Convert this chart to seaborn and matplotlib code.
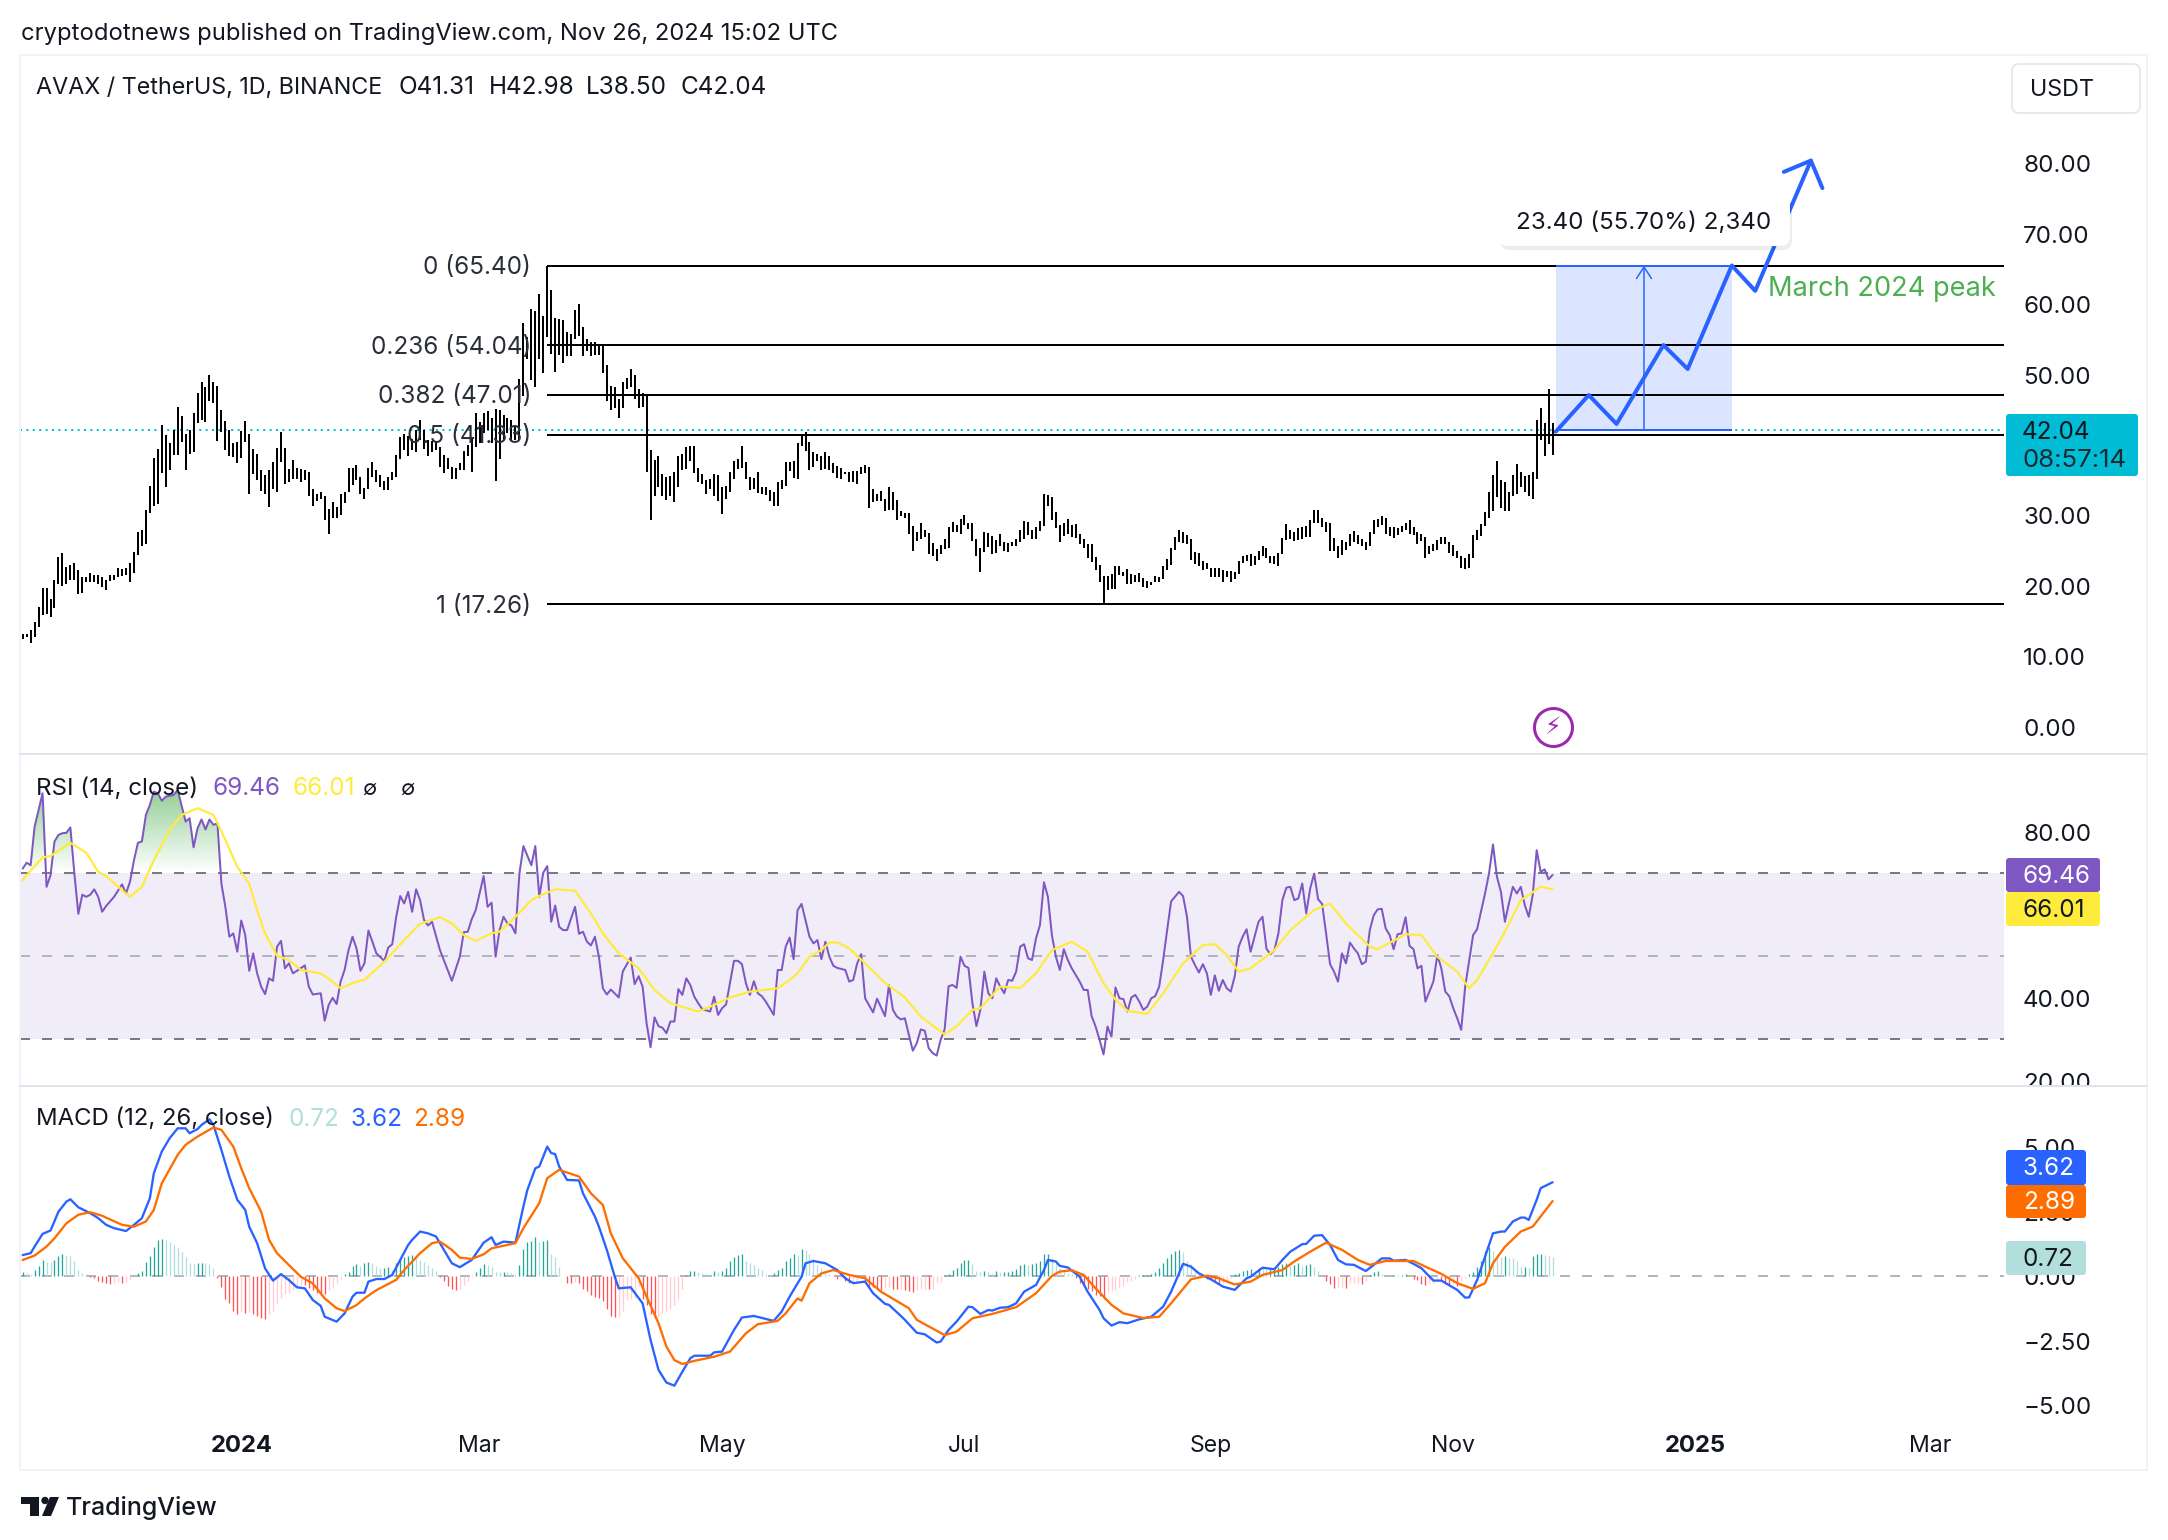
import numpy as np
import pandas as pd
import matplotlib
matplotlib.use('Agg')
import matplotlib.pyplot as plt
import matplotlib.dates as mdates
from matplotlib.colors import to_rgb
from matplotlib.lines import Line2D
from matplotlib.patches import FancyBboxPatch, PathPatch, Polygon, Circle
from matplotlib.path import Path
from matplotlib.transforms import Bbox, IdentityTransform, ScaledTranslation
import seaborn as sns

# daily bars, highs and lows
bar_high = [
    13.1,13.1,13.7,14.8,16.9,19.6,19.6,18.1,20.8,24.0, 24.5,22.6,22.9,23.1,22.2,21.1,21.2,21.7,21.4,21.4,
    21.1,20.7,21.4,21.4,22.5,22.3,22.5,23.1,24.7,27.6, 27.8,30.7,34.1,38.0,39.3,42.7,41.3,40.2,42.1,45.3,
    44.0,41.4,42.0,44.4,47.3,48.9,48.2,49.8,48.9,48.3, 44.9,43.3,42.0,40.2,40.4,41.9,43.3,41.4,39.3,38.7,
    36.3,35.6,36.3,37.5,39.5,41.8,39.5,36.5,37.8,36.6, 36.5,36.4,36.1,33.6,33.0,33.3,32.7,30.8,31.8,31.1,
    33.0,33.2,36.6,36.6,37.0,35.3,33.8,36.7,37.5,36.4, 35.7,34.8,35.3,36.1,38.5,41.1,41.5,41.2,40.8,42.0,
    43.5,42.0,40.6,40.5,40.4,39.6,38.5,38.0,36.8,36.7, 37.3,39.1,39.9,41.1,44.5,43.2,44.5,44.7,43.8,45.0,
    44.9,44.2,43.7,43.5,42.5,49.3,57.2,55.3,59.2,58.9, 61.4,58.3,65.4,61.9,58.0,57.8,57.7,56.0,55.7,59.1,
    60.0,56.6,54.9,54.5,54.5,54.3,54.0,51.2,48.3,48.1, 46.4,48.9,49.4,50.7,49.8,47.8,47.3,46.9,39.2,37.8,
    38.4,35.8,35.3,35.5,36.1,38.3,38.6,39.6,39.8,39.8, 36.6,35.8,35.0,35.1,35.8,35.6,34.0,34.1,36.1,37.6,
    37.9,39.7,37.5,35.3,35.2,36.1,33.9,33.9,33.5,33.2, 34.7,35.0,37.5,37.5,37.6,40.2,41.3,41.8,40.3,38.9,
    38.6,38.3,38.9,38.4,37.3,36.9,36.6,36.1,36.1,36.2, 36.2,36.8,37.1,36.8,33.6,33.0,33.4,32.2,33.9,33.3,
    32.1,30.5,30.3,30.2,28.4,27.6,28.8,27.9,27.4,26.0, 25.2,25.7,26.5,28.2,29.0,28.5,29.4,29.9,28.9,28.8,
    26.5,25.3,27.6,27.4,27.0,26.4,27.2,26.2,26.0,26.1, 26.5,27.9,29.1,29.0,27.9,28.3,29.1,33.0,32.8,32.5,
    30.4,28.5,28.8,29.4,28.6,28.7,27.2,26.6,25.9,25.9, 24.0,22.8,21.3,21.3,21.6,22.7,22.7,21.9,22.3,21.6,
    21.5,21.7,21.0,20.6,20.5,21.3,21.2,22.7,23.7,25.3, 26.8,27.9,27.5,27.1,26.6,24.7,24.6,23.5,23.2,22.5,
    22.5,22.5,22.2,22.0,22.0,21.8,23.4,24.2,24.3,24.4, 24.1,24.9,25.6,25.3,24.1,24.2,24.5,26.7,28.7,27.9,
    27.6,28.1,28.3,28.4,29.3,30.7,30.7,29.5,29.0,28.8, 26.7,25.6,26.4,26.2,27.3,27.7,27.1,26.5,26.2,27.6,
    29.3,29.4,29.8,29.6,28.3,28.2,28.1,28.4,28.8,29.3, 28.2,27.5,27.2,26.8,25.5,25.9,26.4,26.9,26.9,26.2,
    25.7,24.8,24.2,23.9,24.4,27.1,27.8,28.7,30.4,33.2, 35.6,37.6,34.9,34.7,33.2,35.6,37.2,36.1,35.5,35.6,
    36.1,43.5,45.2,43.1,47.8,42.98,
]
bar_low = [
    12.3,12.6,11.8,12.7,14.0,15.8,15.9,15.5,16.8,20.2, 19.9,20.1,20.7,20.7,18.8,18.9,20.4,20.4,20.4,20.1,
    19.8,19.3,20.6,20.7,21.1,21.3,21.4,20.5,21.7,24.3, 25.6,25.9,30.3,31.3,31.5,36.0,34.0,36.4,38.5,38.5,
    40.3,36.4,38.6,38.9,43.1,43.5,43.2,46.2,45.9,40.5, 41.8,39.2,38.4,38.2,37.4,38.0,40.3,33.0,35.8,35.0,
    33.4,33.0,31.1,33.7,33.2,37.5,34.3,34.6,35.1,35.1, 34.7,34.9,32.7,31.2,31.9,32.3,29.3,27.2,29.5,29.6,
    30.0,31.7,33.2,34.2,35.0,33.0,32.3,33.7,35.3,34.6, 34.0,33.5,33.5,35.0,35.3,37.9,39.2,38.4,39.2,38.9,
    40.6,39.4,38.4,38.9,39.2,36.8,35.9,36.5,35.1,35.1, 36.4,36.4,38.3,36.1,39.6,40.2,41.6,42.0,40.2,34.8,
    37.9,40.6,41.6,40.6,40.6,40.6,46.8,52.1,49.1,48.2, 52.1,50.1,55.3,52.9,50.3,52.7,51.6,52.5,52.5,54.9,
    55.4,52.5,53.2,52.5,52.7,52.7,50.2,46.2,44.9,45.2, 43.8,45.2,47.9,48.2,46.4,45.1,45.3,36.1,29.2,32.6,
    34.0,32.6,32.1,32.6,31.8,34.0,36.3,36.5,37.7,36.0, 34.7,34.3,33.0,33.7,32.6,31.9,30.1,32.3,33.3,35.1,
    36.5,36.6,35.1,33.5,33.7,33.1,33.0,32.8,31.9,31.3, 31.2,33.7,34.1,36.2,35.2,35.1,39.7,39.1,36.3,36.8,
    37.7,36.4,36.5,36.4,36.0,35.2,35.1,35.8,34.7,34.6, 34.4,35.8,36.0,30.9,31.8,31.9,32.0,30.6,30.7,30.7,
    29.2,29.8,29.6,27.2,24.9,26.3,26.6,26.8,24.4,24.1, 23.5,24.4,25.2,25.3,27.6,27.5,27.3,28.6,28.0,26.3,
    24.2,21.8,24.7,25.4,24.4,24.6,25.5,24.8,24.7,25.5, 25.5,26.2,26.5,27.1,26.5,26.6,27.7,28.4,31.3,29.3,
    28.1,26.1,27.0,27.2,26.8,26.7,25.9,25.3,23.9,23.3, 22.1,20.5,17.26,19.3,19.4,19.5,21.4,21.3,20.2,20.2,
    20.5,20.5,19.8,19.6,20.0,20.4,20.4,20.9,22.1,22.9, 25.0,26.1,26.0,25.8,23.6,23.0,22.7,22.1,22.3,21.1,
    21.1,21.2,20.4,21.2,20.4,20.9,21.6,23.1,23.4,22.7, 22.9,23.6,24.2,23.9,23.1,23.0,22.7,24.4,26.4,26.5,
    26.3,26.4,26.6,26.9,26.9,28.9,28.9,28.2,27.5,24.9, 24.9,23.8,24.3,25.0,25.5,26.2,25.9,25.5,25.0,25.6,
    27.3,28.2,28.6,27.3,27.0,26.7,27.1,27.6,27.8,27.2, 27.1,25.8,26.3,23.9,24.4,24.9,25.0,25.9,25.9,24.5,
    24.2,23.9,22.4,22.3,22.4,23.8,26.4,27.0,28.4,29.5, 30.6,32.5,31.0,30.6,30.6,32.7,33.0,33.9,33.3,32.7,
    32.3,35.1,40.6,38.3,40.0,38.50,
]

fib_levels = [65.40, 54.04, 47.01, 41.33, 17.26]
fib_names = ['0', '0.236', '0.382', '0.5', '1']
last_close = 42.04

# projection drawn on the chart, bar number and price
path_bars = [385.8, 394.1, 401.1, 412.9, 419, 430.1, 436, 450]
path_prices = [41.8, 47.0, 42.9, 54.1, 50.7, 65.4, 61.8, 80.3]
head_bars = [443.2, 450, 452.9]
head_prices = [78.7, 80.3, 76.4]

rsi_bars = [
    0,1,2,3,5,6,7,8,9,10,11,12,13,14,15,16,17,18,19,20,21,23,25,26,27,28,29,30,31,32,33,34,35,36,38,39,
    41,42,43,44,45,46,47,48,49,50,51,52,53,54,55,56,57,58,59,60,61,62,63,64,65,66,67,68,69,71,72,73,75,76,
    77,78,79,80,81,82,83,84,85,86,87,88,89,91,92,93,94,95,96,97,98,99,100,101,102,103,105,108,110,111,112,113,
    114,116,117,118,119,120,121,122,123,124,125,126,128,129,130,131,132,133,134,135,136,137,139,140,141,142,143,144,
    145,146,147,148,150,151,153,154,155,156,157,158,159,160,161,162,163,164,165,166,167,168,169,170,171,173,174,175,
    176,177,179,180,181,182,183,184,185,186,187,189,190,191,192,193,194,195,
    196,197,198,199,200,201,202,203,204,205,207,208,209,210,211,212,214,215,217,218,219,220,221,222,223,224,225,226,
    227,228,229,230,231,232,233,234,235,236,237,238,239,240,241,242,243,244,245,246,247,248,249,250,251,252,253,254,
    255,256,257,258,259,260,261,262,263,264,265,266,267,268,269,270,271,272,273,274,275,276,277,278,279,280,281,282,
    283,284,285,286,287,288,289,291,292,293,294,295,296,297,298,299,300,301,302,303,304,305,306,307,308,309,310,311,
    312,313,314,315,316,317,318,319,320,321,322,323,324,325,326,327,328,329,330,331,332,333,334,335,336,337,338,339,
    340,341,342,343,344,345,346,347,348,349,350,351,352,353,354,355,356,357,358,359,360,361,362,363,365,366,368,369,
    370,371,372,373,374,375,376,377,378,379,380,381,382,383,384,385,
]
rsi_vals = [
    71.0,72.4,71.8,81.1,89.1,66.6,69.4,77.5,79.1,79.5,79.6,80.9,69.8,60.1,64.7,64.2,64.7,66.0,64.2,60.6,62.0,64.2,67.2,65.0,67.8,73.0,77.2,77.5,83.9,86.3,89.5,89.1,87.3,88.3,88.7,89.9,
    82.3,83.1,76.1,80.7,82.8,80.4,82.8,81.5,81.9,67.4,61.8,54.6,55.4,51.0,58.5,55.0,46.4,50.6,45.8,42.6,40.8,44.6,44.0,52.2,53.6,47.0,48.2,45.8,46.4,47.7,42.6,40.7,41.0,34.4,
    38.2,39.9,38.4,43.8,46.6,51.4,54.6,51.8,46.4,48.2,56.1,53.4,50.6,48.8,52.0,52.8,59.4,64.4,62.6,65.4,60.6,66.0,63.4,58.6,57.3,58.2,51.4,44.0,49.8,55.7,55.8,58.8,
    61.0,69.2,61.8,62.8,49.8,56.2,59.4,57.8,57.3,55.4,69.8,76.4,71.8,76.4,64.2,70.0,71.6,58.2,62.1,57.0,56.2,56.2,61.8,55.3,55.8,53.4,52.5,54.6,
    49.8,42.2,40.7,41.9,40.0,46.2,49.6,43.2,45.1,42.6,33.8,28.0,35.2,33.1,32.7,31.4,34.2,34.2,42.0,40.6,44.6,43.0,40.2,38.6,37.2,36.6,40.2,35.8,
    37.4,38.3,48.8,48.8,48.0,43.4,40.6,43.9,41.0,40.3,39.0,35.8,46.6,46.6,52.2,54.4,49.2,61.0,
    62.5,58.6,54.6,53.0,53.8,49.2,53.4,49.8,47.6,47.1,46.6,43.8,44.2,48.2,50.4,39.8,36.4,39.7,35.5,43.0,37.0,35.4,34.7,35.0,31.0,27.2,29.0,32.3,
    32.0,27.8,26.6,26.0,29.8,32.3,42.7,43.0,42.3,49.8,47.6,47.1,38.6,33.1,37.0,46.2,41.0,39.8,44.6,42.6,41.0,44.2,44.0,46.2,52.2,52.8,49.4,49.0,
    54.2,57.4,67.7,64.2,55.0,49.8,46.6,51.6,49.0,47.0,45.4,43.8,41.8,41.8,35.5,33.0,29.8,26.3,33.0,30.6,42.4,39.8,39.6,36.6,40.0,40.6,39.0,37.0,
    37.8,39.8,40.3,42.6,49.0,56.2,63.1,65.4,64.4,59.4,49.8,47.8,46.0,48.0,45.8,40.6,45.3,41.6,44.2,42.2,41.4,45.0,52.2,54.6,56.4,51.0,54.6,58.2,
    59.4,51.7,50.4,51.4,55.4,63.4,66.4,66.6,63.4,63.8,67.4,60.2,66.2,69.8,63.6,62.5,55.4,48.0,46.2,43.8,50.6,48.2,53.2,51.8,50.6,48.0,48.6,56.2,
    59.8,61.2,61.3,56.6,55.0,51.6,55.2,55.4,59.3,52.4,51.6,47.0,47.6,39.0,41.4,43.8,50.2,47.0,41.4,40.3,37.4,35.0,32.2,42.6,55.0,56.4,65.0,69.8,
    76.8,69.0,65.4,58.2,62.6,66.6,65.0,66.6,62.2,59.4,64.6,75.4,70.2,70.8,68.4,69.46,
]
rsi_ma_bars = [
    0,1,5,7,12,16,19,21,25,27,30,33,37,40,44,48,51,54,57,59,61,64,67,70,75,78,80,84,86,91,96,100,105,108,111,114,118,120,124,128,130,134,
    139,143,146,150,155,159,163,170,174,178,183,190,193,195,198,201,203,205,208,212,217,222,226,232,235,239,241,246,251,255,259,264,268,272,275,278,283,287,
    292,297,300,303,306,309,315,319,325,329,333,339,341,348,352,356,361,364,366,370,373,377,382,385,
]
rsi_ma_vals = [
    68.2,69.4,73.7,74.0,77.2,74.8,70.2,69.2,65.8,64.2,66.6,73.0,80.3,83.9,85.5,83.9,77.9,71.4,67.4,61.0,55.4,50.0,49.0,46.6,45.8,43.8,42.2,43.8,44.2,48.6,53.8,57.7,59.3,57.8,55.0,53.6,55.4,55.8,59.4,63.4,64.4,66.0,
    65.7,60.2,55.4,50.6,47.0,41.8,38.6,36.6,38.2,40.0,41.4,42.2,44.2,45.8,49.8,51.4,53.2,53.2,51.8,48.2,43.5,40.0,35.4,31.1,33.0,37.0,37.4,42.6,42.3,45.8,51.4,53.4,51.0,43.4,39.5,36.8,36.0,41.0,
    48.2,52.6,52.8,50.2,46.2,47.0,51.4,56.2,61.0,62.6,57.8,52.2,51.6,55.2,55.0,49.8,46.2,42.2,44.2,50.6,55.8,63.4,66.6,66.01,
]

macd_bars = [
    0,2,3,5,7,9,11,12,14,17,19,21,23,26,28,30,32,33,35,37,39,41,42,44,45,47,48,50,52,54,56,57,59,61,63,65,67,69,71,73,75,76,79,81,83,84,86,87,89,91,93,95,97,98,
    100,102,104,106,108,110,113,116,118,119,121,124,126,127,129,130,132,133,134,135,137,140,141,144,145,147,149,150,153,156,158,160,162,164,166,168,169,173,174,176,179,181,184,189,191,193,
    196,197,199,202,205,207,209,212,214,217,218,221,222,225,227,230,231,233,235,238,239,241,243,244,246,248,250,252,255,257,258,260,261,263,266,268,271,272,274,276,278,281,284,287,289,291,292,294,296,299,
    302,305,308,309,312,315,317,319,322,323,325,327,329,331,333,335,338,340,342,344,345,348,350,352,355,357,361,363,364,366,368,370,372,373,375,377,378,379,381,382,385,
]
macd_vals = [
    0.8,0.87,1.13,1.62,1.75,2.48,2.87,2.96,2.65,2.42,2.23,1.97,1.84,1.73,1.97,2.23,3.0,3.97,4.81,5.33,5.71,5.71,5.52,5.68,5.84,6.06,5.84,4.87,3.84,2.94,2.55,1.9,1.26,0.28,-0.19,0.06,-0.17,-0.45,-0.49,-0.94,-1.17,-1.59,-1.78,-1.46,-0.81,-0.66,-0.66,-0.23,-0.13,-0.13,0.03,0.61,1.19,1.39,
    1.71,1.64,1.52,1.0,0.48,0.33,0.61,1.28,1.49,1.19,1.32,1.28,2.68,3.32,4.16,4.23,5.0,4.75,4.71,4.23,3.71,3.69,3.19,2.29,1.9,1.0,-0.04,-0.49,-0.45,-1.07,-2.49,-3.65,-4.14,-4.26,-3.72,-3.2,-3.1,-3.1,-2.97,-2.94,-2.1,-1.62,-1.56,-1.75,-1.39,-0.81,
    -0.04,0.48,0.57,0.48,0.22,-0.1,-0.29,-0.23,-0.68,-1.09,-1.13,-1.56,-1.71,-2.21,-2.27,-2.59,-2.55,-2.1,-1.78,-1.2,-1.22,-1.48,-1.33,-1.35,-1.24,-1.22,-1.07,-0.62,-0.36,0.22,0.61,0.55,0.38,0.32,-0.04,-0.62,-1.33,-1.65,-1.93,-1.8,-1.84,-1.69,-1.59,-1.2,-0.62,0.09,0.46,0.35,0.09,-0.14,
    -0.42,-0.55,-0.1,-0.04,0.31,0.25,0.61,0.93,1.22,1.23,1.55,1.57,1.19,0.61,0.44,0.42,0.18,0.42,0.67,0.67,0.58,0.61,0.46,0.29,-0.19,-0.19,-0.55,-0.85,-0.84,-0.17,0.74,1.64,1.71,1.71,2.1,2.25,2.25,2.16,2.94,3.39,3.62,
]
signal_bars = [
    0,3,6,8,11,14,17,20,25,28,31,33,35,39,41,44,48,50,53,55,57,60,62,64,67,70,73,76,79,81,84,86,89,94,96,100,103,105,108,110,113,116,118,124,126,130,132,135,140,143,146,148,151,155,157,160,162,164,166,169,174,178,182,185,190,192,195,
    196,198,201,204,208,212,216,223,225,232,235,239,244,250,255,259,261,264,267,270,274,277,282,286,289,294,298,301,305,309,312,317,320,324,328,332,336,339,343,350,353,357,361,365,368,370,373,377,380,385,
]
signal_vals = [
    0.61,0.78,1.13,1.45,2.03,2.36,2.46,2.32,1.97,1.9,2.1,2.55,3.58,4.68,5.07,5.39,5.74,5.65,5.0,4.16,3.39,2.48,1.39,0.87,0.41,-0.04,-0.3,-0.88,-1.26,-1.37,-1.14,-0.88,-0.56,-0.16,0.22,0.87,1.26,1.32,1.0,0.7,0.65,0.83,1.06,1.26,1.84,2.81,3.78,4.1,3.84,3.19,2.74,1.64,0.68,-0.1,-0.81,-1.84,-2.75,-3.27,-3.42,-3.3,-3.14,-2.94,-2.23,-1.88,-1.75,-1.46,-0.88,
    -0.97,-0.29,0.09,0.22,0.03,-0.1,-0.62,-1.26,-1.71,-2.3,-2.17,-1.65,-1.48,-1.22,-0.68,-0.01,0.16,0.21,0.03,-0.49,-1.13,-1.46,-1.64,-1.59,-1.07,-0.14,0.0,-0.1,-0.34,-0.23,0.03,0.22,0.55,0.93,1.28,1.0,0.61,0.42,0.57,0.57,0.35,0.07,-0.29,-0.51,-0.29,0.48,1.12,1.71,1.9,2.89,
]
macd_hist = [
    .16,.1,.06,.22,.39,.6,.53,.52,.6,.77, .84,.8,.76,.57,.22,.12,.05,-.04,-.1,-.2,
    -.25,-.3,-.32,-.27,-.25,-.27,-.23,-.16,-.06,.1, .2,.52,.78,1.1,1.4,1.42,1.38,1.3,1.19,1.1,
    .93,.72,.48,.45,.48,.5,.48,.45,.28,-.1, -.45,-.9,-1.05,-1.36,-1.5,-1.35,-1.45,-1.42,-1.5,-1.58,
    -1.62,-1.67,-1.5,-1.4,-1.08,-.88,-.7,-.68,-.56,-.43, -.35,-.36,-.49,-.56,-.68,-.71,-.72,-.56,-.43,-.28,
    -.14,.05,.15,.38,.44,.36,.48,.52,.5,.38, .3,.3,.32,.22,.5,.65,.72,.78,.8,.75,
    .6,.52,.42,.28,.18,-.04,-.2,-.38,-.52,-.56, -.5,-.35,-.22,-.05,.15,.3,.46,.42,.35,.15,
    .14,.15,.14,.12,.05,.42,1.05,1.3,1.35,1.5, 1.3,1.35,1.4,.85,.72,.35,-.03,-.28,-.3,-.25,
    -.28,-.5,-.6,-.75,-.82,-.85,-.98,-1.3,-1.55,-1.6, -1.6,-1.35,-.95,-.9,-.85,-.4,-.9,-1.15,-1.5,-1.65,
    -1.6,-1.45,-1.42,-1.3,-1.15,-.9,-.5,.02,.18,.18, .15,.12,.1,.08,.18,.14,.18,.28,.55,.74,
    .8,.85,.55,.5,.42,.3,.22,.05,.02,.1, .22,.3,.55,.7,.85,.8,1.05,1.0,.85,.65,
    .42,.3,.15,.05,-.02,-.14,-.12,-.2,-.3,-.28, -.25,-.1,-.28,-.42,-.45,-.5,-.55,-.45,-.45,-.5,
    -.52,-.52,-.55,-.6,-.62,-.55,-.52,-.5,-.52,-.5, -.3,-.25,.03,.05,.22,.3,.5,.6,.6,.45,
    .2,.15,.2,.15,.1,.18,.15,.15,.16,.2, .25,.4,.45,.42,.45,.5,.55,.85,.85,.7,
    .55,.3,.18,.1,.05,-.1,-.3,-.35,-.5,-.6, -.75,-.8,-.9,-.65,-.6,-.55,-.42,-.38,-.25,-.2,
    -.12,.01,.02,.03,.06,.15,.3,.5,.68,.85, .95,1.0,.9,.55,.45,.25,.1,.05,-.12,-.18,
    -.25,-.3,-.28,-.28,-.1,.05,.1,.2,.22,.25, .2,.3,.28,.22,.24,.28,.35,.45,.5,.4,
    .42,.5,.38,.42,.45,.35,.2,.05,-.2,-.32, -.48,-.48,-.45,-.48,-.3,-.3,-.3,-.32,-.2,.04,
    .15,.2,.08,.05,.02,.02,.01,.03,.05,.03, -.12,-.18,-.32,-.35,-.28,-.28,-.12,-.2,-.32,-.35,
    -.32,-.4,-.2,-.08,.05,.15,.32,.55,.95,1.1, .95,.75,.72,.75,.7,.68,.55,.35,.35,.3,
    .75,.85,.85,.8,.78,.72,
]

price_ticks = [0, 10, 20, 30, 50, 60, 70, 80]
rsi_tick_shown = [20, 40, 80]
macd_ticks = [-5, -2.5, 0, 2.5, 5]
month_dates = ['2024-01-01', '2024-03-01', '2024-05-01', '2024-07-01', '2024-09-01', '2024-11-01', '2025-01-01', '2025-03-01']
month_labels = ['2024', 'Mar', 'May', 'Jul', 'Sep', 'Nov', '2025', 'Mar']

W, H = 2168, 1540
sns.set_theme(style='white')
plt.rcParams['font.family'] = ['Inter', 'DejaVu Sans']
plt.rcParams['text.color'] = '#131722'
INK = '#131722'
PURPLE = '#7e57c2'
YELLOW = '#ffeb3b'
BLUE = '#2962ff'
ORANGE = '#ff6d00'
TEAL = '#00bcd4'
PX = 0.72  # one pixel in points at dpi 100

start = pd.Timestamp('2023-11-07')
def bar_date(i):
    return start + pd.to_timedelta(np.asarray(i, dtype=float), unit='D')

dates = bar_date(np.arange(len(bar_high)))

fig = plt.figure(figsize=(W / 100, H / 100), dpi=100, facecolor='white')

def make_ax(y_top, y_bottom):
    ax = fig.add_axes([20 / W, 1 - y_bottom / H, (2004 - 20) / W, (y_bottom - y_top) / H])
    for s in ax.spines.values():
        s.set_visible(False)
    ax.patch.set_alpha(0)
    ax.set_xlim(bar_date(-0.68), bar_date(498.6))
    return ax

ax_p = make_ax(55, 754)
ax_r = make_ax(754, 1085.7)
ax_m = make_ax(1085.7, 1428)

# price panel
ax_p.vlines(dates, bar_low, bar_high, color='black', lw=2 * PX, zorder=3)
ax_p.hlines(fib_levels, bar_date(132), bar_date(498.6), color='black', lw=2 * PX, zorder=2)
ax_p.axhline(last_close, color=TEAL, lw=2 * PX, ls=(0, (1, 2.2)), zorder=2)
for lev, name in zip(fib_levels, fib_names):
    ax_p.annotate(f'{name} ({lev:.2f})', xy=(bar_date(128), lev), xytext=(0, -1.2), textcoords='offset points',
                  ha='right', va='center', fontsize=17.5, color='#2a2e39', zorder=4)

ax_p.fill_between(bar_date([385.8, 430.2]), last_close, fib_levels[0], color=BLUE, alpha=0.16, lw=0, zorder=1)
ax_p.hlines([last_close, fib_levels[0]], bar_date(385.8), bar_date(430.2), color=BLUE, lw=2 * PX, zorder=3)
ax_p.annotate('', xy=(bar_date(408), fib_levels[0]), xytext=(bar_date(408), last_close),
              arrowprops=dict(arrowstyle='->,head_length=0.7,head_width=0.45', color=BLUE, lw=1.5 * PX, shrinkA=0, shrinkB=0), zorder=3)

path_df = pd.DataFrame({'date': bar_date(path_bars), 'price': path_prices})
head_df = pd.DataFrame({'date': bar_date(head_bars), 'price': head_prices})
sns.lineplot(data=path_df, x='date', y='price', ax=ax_p, color=BLUE, lw=4 * PX, estimator=None, errorbar=None, legend=False, zorder=4)
sns.lineplot(data=head_df, x='date', y='price', ax=ax_p, color=BLUE, lw=4 * PX, estimator=None, errorbar=None, legend=False, sort=False, zorder=4)
ax_p.text(bar_date(439.3), 62.1, 'March 2024 peak', color='#4caf50', fontsize=19.6, va='center', ha='left', zorder=4)

# dividend marker under the last bar
ax_p.plot([dates[-1]], [-0.14], marker='o', ms=38 * PX, mfc='white', mec='#9c27b0', mew=3 * PX, zorder=5)
ax_p.text(dates[-1], -0.14, '\u26a1', family='DejaVu Sans', color='#9c27b0', fontsize=17, ha='center', va='center', zorder=6)

ax_p.set_ylim(-3.98, 95.3)
ax_p.set_yticks(price_ticks)
ax_p.set_yticklabels([f'{v:.2f}' for v in price_ticks])

# RSI panel
rsi_df = pd.DataFrame({'date': bar_date(rsi_bars), 'value': rsi_vals})
rsi_ma_df = pd.DataFrame({'date': bar_date(rsi_ma_bars), 'value': rsi_ma_vals})

ax_r.fill_between([bar_date(-0.68), bar_date(498.6)], 30, 70, color=PURPLE, alpha=0.1, lw=0, zorder=1)
ax_r.axhline(70, color='#787b86', lw=2 * PX, ls=(0, (5, 6)), zorder=2)
ax_r.axhline(50, color='#b2b5be', lw=2 * PX, ls=(0, (5, 6)), zorder=2)
ax_r.axhline(30, color='#787b86', lw=2 * PX, ls=(0, (5, 6)), zorder=2)

# green gradient above the 70 line
x_num = mdates.date2num(rsi_df['date'])
y_rsi = np.array(rsi_vals)
over = ax_r.fill_between(x_num, y_rsi, 70, where=y_rsi > 70, interpolate=True, color='none', lw=0)
clip = PathPatch(Path.make_compound_path(*over.get_paths()), transform=ax_r.transData, fc='none', ec='none')
ax_r.add_patch(clip)
grad = np.zeros((100, 2, 4))
grad[..., :3] = to_rgb('#66bb6a')
grad[..., 3] = np.linspace(0.75, 0, 100)[:, None]
im = ax_r.imshow(grad, extent=[x_num[0], x_num[-1], 70, 91], origin='upper', aspect='auto', zorder=2)
im.set_clip_path(clip)

sns.lineplot(data=rsi_df, x='date', y='value', ax=ax_r, color=PURPLE, lw=2 * PX, estimator=None, errorbar=None, legend=False, zorder=4)
sns.lineplot(data=rsi_ma_df, x='date', y='value', ax=ax_r, color=YELLOW, lw=2.2 * PX, estimator=None, errorbar=None, legend=False, zorder=5)
ax_r.set_xlim(bar_date(-0.68), bar_date(498.6))
ax_r.set_ylim(18.77, 98.55)
ax_r.set_yticks(rsi_tick_shown)
ax_r.set_yticklabels([f'{v:.2f}' for v in rsi_tick_shown])

# MACD panel
hist = np.array(macd_hist)
hist_colors = []
for k, v in enumerate(hist):
    rising = k == 0 or v >= hist[k - 1]
    if v >= 0:
        hist_colors.append('#26a69a' if rising else '#b2dfdb')
    else:
        hist_colors.append('#ffcdd2' if rising else '#ff5252')
ax_m.vlines(dates[:len(hist)], 0, hist, colors=hist_colors, lw=1.3 * PX, zorder=2)
ax_m.axhline(0, color='#b2b5be', lw=2 * PX, ls=(0, (5, 6)), zorder=1)

macd_df = pd.DataFrame({'date': bar_date(macd_bars), 'value': macd_vals})
signal_df = pd.DataFrame({'date': bar_date(signal_bars), 'value': signal_vals})
sns.lineplot(data=macd_df, x='date', y='value', ax=ax_m, color=BLUE, lw=2.3 * PX, estimator=None, errorbar=None, legend=False, zorder=4)
sns.lineplot(data=signal_df, x='date', y='value', ax=ax_m, color=ORANGE, lw=2.3 * PX, estimator=None, errorbar=None, legend=False, zorder=5)
ax_m.set_xlim(bar_date(-0.68), bar_date(498.6))
ax_m.set_ylim(-5.90, 7.36)
ax_m.set_yticks(macd_ticks)
ax_m.set_yticklabels([f'{v:.2f}'.replace('-', '\u2212') for v in macd_ticks])

nudge = ScaledTranslation(0, -1.2 / 100, fig.dpi_scale_trans)
for ax in (ax_p, ax_r, ax_m):
    ax.set_xlabel('')
    ax.set_ylabel('')
    ax.yaxis.tick_right()
    ax.tick_params(axis='y', length=0, pad=13.7, labelsize=17.4, labelcolor=INK)
    ax.tick_params(axis='x', length=0, labelbottom=False)
    ax.grid(False)
    for t in ax.yaxis.get_major_ticks():
        t.label2.set_transform(t.label2.get_transform() + nudge)

# the 20.00 label is cut off by the panel below
for t in ax_r.yaxis.get_major_ticks():
    t.label2.set_clip_on(True)
    t.label2.set_clip_box(Bbox([[1900, H - 1085.7], [2147, H - 754]]))

ax_m.set_xticks(pd.to_datetime(month_dates))
ax_m.tick_params(axis='x', labelbottom=True, pad=4.8, labelsize=16.6, labelcolor=INK)
ax_m.set_xticklabels(month_labels)
for lab, txt in zip(ax_m.get_xticklabels(), month_labels):
    if txt.isdigit():
        lab.set_fontweight('bold')
        lab.set_fontsize(17.2)

# frame lines
def frame_line(x0, y0, x1, y1, color):
    fig.add_artist(Line2D([x0 / W, x1 / W], [1 - y0 / H, 1 - y1 / H], color=color, lw=2 * PX, zorder=1))

frame_line(20, 55, 2147, 55, '#f0f3fa')
frame_line(20, 55, 20, 1470, '#f0f3fa')
frame_line(2147, 55, 2147, 1470, '#f0f3fa')
frame_line(20, 1470, 2147, 1470, '#f0f3fa')
frame_line(20, 754, 2147, 754, '#e0e3eb')
frame_line(20, 1085.7, 2147, 1085.7, '#e0e3eb')

def box(x0, y0, x1, y1, fc, ec='none', radius=3, z=5, lw=0, alpha=1):
    r = radius
    p = FancyBboxPatch((x0 + r, H - y1 + r), x1 - x0 - 2 * r, y1 - y0 - 2 * r,
                       boxstyle=f'round,pad={r},rounding_size={r}', fc=fc, ec=ec, lw=lw, alpha=alpha,
                       transform=IdentityTransform(), zorder=z)
    fig.add_artist(p)

def label(x, y, s, size=17.5, color=INK, z=7, **kw):
    fig.text(x / W, 1 - (y + 1.5) / H, s, fontsize=size, color=color, va='center', ha=kw.pop('ha', 'left'), zorder=z, **kw)

# titles and legends
label(21, 32, 'cryptodotnews published on TradingView.com, Nov 26, 2024 15:02 UTC', size=17.1)
label(36, 86, 'AVAX / TetherUS, 1D, BINANCE', size=16.8)
label(398, 86, 'O41.31')
label(489, 86, 'H42.98')
label(586, 86, 'L38.50')
label(680, 86, 'C42.04')
label(36, 787, 'RSI (14, close)', size=17.4)
label(212, 787, '69.46', color=PURPLE)
label(293, 787, '66.01', color=YELLOW)
label(362, 787, '\u2205', size=15)
label(400, 787, '\u2205', size=15)
label(36, 1117.5, 'MACD (12, 26, close)', size=17.2)
label(288, 1117.5, '0.72', color='#b2dfdb')
label(350, 1117.5, '3.62', color=BLUE)
label(413, 1117.5, '2.89', color=ORANGE)

# measure label and currency box
box(1500, 199, 1792, 250, '#000000', alpha=0.07, radius=10, z=4)
box(1498, 196, 1790, 246, 'white', radius=10, z=5)
label(1644, 221, '23.40 (55.70%) 2,340', ha='center', size=17.4)
box(2012, 64, 2140, 113, 'white', ec='#e0e3eb', radius=7, lw=1.5 * PX)
label(2030, 88, 'USDT', size=16.8)

# last value badges on the right scale
box(2006, 414, 2138, 476, TEAL, radius=3)
label(2022, 431, '42.04')
label(2022, 459, '08:57:14', size=18.5, color='#1c2a33')
box(2006, 858, 2100, 892, PURPLE)
label(2022.7, 875, '69.46', color='white')
box(2006, 892, 2100, 926, YELLOW)
label(2022.7, 909, '66.01')
box(2006, 1150, 2086, 1185, BLUE)
label(2022.7, 1167, '3.62', color='white')
box(2006, 1185, 2086, 1218, ORANGE)
label(2022.7, 1201, '2.89', color='white')
box(2006, 1241, 2086, 1275, '#b2dfdb')
label(2022.7, 1258, '0.72')

# TradingView mark
logo = '#131722'
fig.add_artist(Polygon([(21, H - 1497), (39, H - 1497), (39, H - 1516), (30, H - 1516), (30, H - 1504), (21, H - 1504)],
                       closed=True, fc=logo, ec='none', transform=IdentityTransform(), zorder=6))
fig.add_artist(Circle((45, H - 1500.5), 3.7, fc=logo, ec='none', transform=IdentityTransform(), zorder=6))
fig.add_artist(Polygon([(50, H - 1497), (59, H - 1497), (51, H - 1516), (42, H - 1516)],
                       closed=True, fc=logo, ec='none', transform=IdentityTransform(), zorder=6))
label(66, 1506, 'TradingView', size=18, fontweight='medium')

fig.savefig('out.png', dpi=100, facecolor='white')
